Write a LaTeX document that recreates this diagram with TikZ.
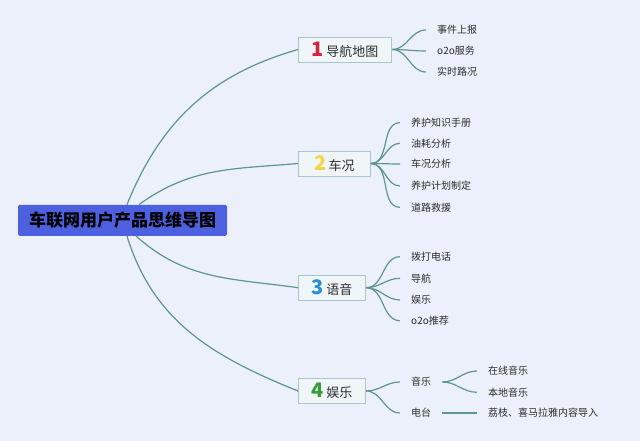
\documentclass[tikz,border=0pt]{standalone}
\usepackage{fontspec}
\setmainfont{Noto Sans CJK SC}
\usetikzlibrary{positioning}

\definecolor{bgcol}{RGB}{236,240,250}
\definecolor{rootblue}{RGB}{76,96,224}
\definecolor{boxline}{RGB}{168,198,202}
\definecolor{boxfill}{RGB}{240,245,248}
\definecolor{linkteal}{RGB}{92,150,140}
\definecolor{textgray}{RGB}{45,45,45}
\definecolor{numred}{RGB}{214,36,58}
\definecolor{numyellow}{RGB}{246,212,70}
\definecolor{numblue}{RGB}{40,142,216}
\definecolor{numgreen}{RGB}{56,156,60}

\newcommand{\topicnum}[2]{{\fontsize{20}{20}\selectfont\bfseries\color{#1}#2}\,}

\begin{document}
\begin{tikzpicture}[
    x=1pt, y=1pt,
    root/.style={rectangle, rounded corners=1.5pt, fill=rootblue, text=black,
                 minimum width=209pt, minimum height=31pt, inner sep=0pt,
                 font=\fontsize{17}{20}\selectfont\bfseries},
    topic/.style={rectangle, draw=boxline, fill=boxfill, line width=0.8pt,
                 minimum height=25pt, inner xsep=13.5pt, anchor=west, text=textgray,
                 font=\fontsize{13}{15}\selectfont},
    leaf/.style={anchor=west, inner xsep=11pt, inner ysep=2pt, text=textgray,
                 font=\fontsize{10}{12}\selectfont},
    link/.style={draw=linkteal, line width=1.2pt},
]

\fill[bgcol] (0,0) rectangle (640,441);

% --- Root ---
\node[root] (root) at (122.5,220.7) {车联网用户产品思维导图};

% --- Topics ---
\node[topic] (nav) at (298,391.5) {\topicnum{numred}{1}导航地图};
\node[topic, minimum width=72pt] (car) at (298,277.5) {\topicnum{numyellow}{2}车况};
\node[topic] (voice) at (298,153.3) {\topicnum{numblue}{3}语音};
\node[topic] (fun) at (298,50) {\topicnum{numgreen}{4}娱乐};

\draw[link] ([xshift=4.5pt]root.north) to[out=68, in=196] (nav.west);
\draw[link] ([xshift=16.5pt]root.north) to[out=36, in=185] (car.west);
\draw[link] ([xshift=13.5pt]root.south) to[out=-42, in=172] (voice.west);
\draw[link] ([xshift=4.5pt]root.south) to[out=-73, in=158] (fun.west);

% --- 导航地图 ---
\node[leaf] (event) at (426,411) {事件上报};
\node[leaf] (oto) at (426,390) {o2o服务};
\node[leaf] (traffic) at (426,369) {实时路况};
\foreach \n in {event,oto,traffic}
  \draw[link] (nav.east) to[out=0, in=180] (\n.west);

% --- 车况 ---
\node[leaf] (manual) at (400,318.3) {养护知识手册};
\node[leaf] (fuel) at (400,297.7) {油耗分析};
\node[leaf] (status) at (400,277) {车况分析};
\node[leaf] (plan) at (400,255) {养护计划制定};
\node[leaf] (rescue) at (400,233.7) {道路救援};
\foreach \n in {manual,fuel,status,plan,rescue}
  \draw[link] (car.east) to[out=0, in=180] (\n.west);

% --- 语音 ---
\node[leaf] (call) at (400,184.3) {拨打电话};
\node[leaf] (guide) at (400,162.7) {导航};
\node[leaf] (media) at (400,141) {娱乐};
\node[leaf] (recom) at (400,120.3) {o2o推荐};
\foreach \n in {call,guide,media,recom}
  \draw[link] (voice.east) to[out=0, in=180] (\n.west);

% --- 娱乐 ---
\node[leaf] (music) at (400,59) {音乐};
\node[leaf] (radio) at (400,28) {电台};
\draw[link] (fun.east) to[out=0, in=180] (music.west);
\draw[link] (fun.east) to[out=0, in=180] (radio.west);
\node[leaf] (online) at (477,70) {在线音乐};
\node[leaf] (local) at (477,48.7) {本地音乐};
\node[leaf] (import) at (477,28) {荔枝、喜马拉雅内容导入};
\draw[link] (music.east) to[out=0, in=180] (online.west);
\draw[link] (music.east) to[out=0, in=180] (local.west);
\draw[link] (radio.east) -- (import.west);

\end{tikzpicture}
\end{document}
